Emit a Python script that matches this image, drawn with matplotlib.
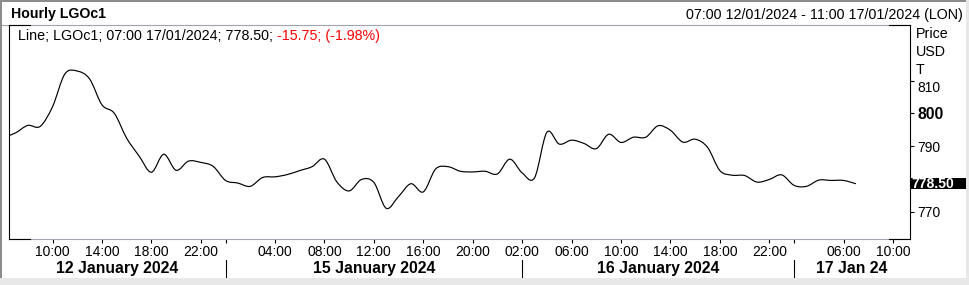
import matplotlib
matplotlib.use('Agg')
import matplotlib.pyplot as plt
import matplotlib.transforms as mtransforms
from matplotlib.patches import Rectangle, PathPatch
from matplotlib.lines import Line2D
from matplotlib.path import Path

plt.rcParams['font.family'] = ['Liberation Sans', 'DejaVu Sans']

# ---------------- data ----------------
# hourly session index (weekend / overnight gaps removed); 0 = 07:00 12/01/2024
bar_index = list(range(-1, 69))
prices = [
    792.5, 794.0, 796.3, 796.0, 802.0, 812.0, 812.9, 810.5, 802.6, 800.0,
    792.4, 787.0, 782.0, 787.5, 782.6, 785.4, 785.0, 783.8, 779.5, 778.7,
    777.7, 780.4, 780.6, 781.3, 782.5, 783.7, 786.0, 779.1, 776.3, 779.8,
    778.9, 771.0, 774.6, 778.5, 776.0, 783.0, 783.7, 782.3, 782.1, 782.3,
    781.5, 786.0, 781.8, 780.3, 794.2, 790.6, 791.8, 790.8, 789.2, 793.6,
    791.1, 792.7, 792.7, 796.2, 794.8, 791.2, 792.1, 789.6, 782.5, 781.1,
    781.0, 779.0, 779.8, 781.2, 778.0, 777.7, 779.6, 779.5, 779.5, 778.5,
]
tick_pos = [3, 7, 11, 15, 17, 21, 25, 29, 33, 37, 41, 45, 49, 53, 57, 61, 63, 67, 71]
tick_labels = ['10:00', '14:00', '18:00', '22:00', '', '04:00', '08:00', '12:00',
               '16:00', '20:00', '02:00', '06:00', '10:00', '14:00', '18:00',
               '22:00', '', '06:00', '10:00']
day_breaks = [17, 41, 63]
day_labels = ['12 January 2024', '15 January 2024', '16 January 2024', '17 Jan 24']
y_ticks = [770, 780, 790, 800, 810]
y_tick_labels = ['770', '780', '790', '800', '810']
last_price = 778.50
change = -15.75
change_pct = -1.98

# ---------------- figure ----------------
W, H = 969, 285
fig = plt.figure(figsize=(W / 100, H / 100), dpi=100)
fig.patch.set_facecolor('white')

def fx(px):
    return px / W

def fy(py):
    return 1 - py / H

ax_l, ax_r, ax_t, ax_b = 9, 910, 25, 239
ax = fig.add_axes([fx(ax_l), fy(ax_b), (ax_r - ax_l) / W, (ax_b - ax_t) / H])
ax.set_facecolor('white')

# smooth line through the hourly points (Catmull-Rom rendered as Bezier curves)
n = len(prices)
xs, ys = bar_index, prices
verts = [(xs[0], ys[0])]
codes = [Path.MOVETO]
for k in range(n - 1):
    km, kp2 = max(k - 1, 0), min(k + 2, n - 1)
    c1 = (xs[k] + (xs[k + 1] - xs[km]) / 6, ys[k] + (ys[k + 1] - ys[km]) / 6)
    c2 = (xs[k + 1] - (xs[kp2] - xs[k]) / 6, ys[k + 1] - (ys[kp2] - ys[k]) / 6)
    verts += [c1, c2, (xs[k + 1], ys[k + 1])]
    codes += [Path.CURVE4] * 3
ax.add_patch(PathPatch(Path(verts, codes), facecolor='none', edgecolor='black',
                       lw=0.85, joinstyle='round'))
ax.set_xlim(-0.52, 72.38)
ax.set_ylim(761.62, 826.96)

# spines
for s in ['top', 'bottom']:
    ax.spines[s].set_visible(False)
for s in ['left', 'right']:
    ax.spines[s].set_color('black')
    ax.spines[s].set_linewidth(0.8)

gray = '#a3a3ad'
axw = ax_r - ax_l
ax.add_line(Line2D([-7 / axw, 1], [1, 1], transform=ax.transAxes, color=gray, lw=0.8, clip_on=False))
ax.add_line(Line2D([0, 1], [0, 0], transform=ax.transAxes, color=gray, lw=0.8, clip_on=False))
c = 21 / axw
for y in (0, 1):
    ax.add_line(Line2D([0, c], [y, y], transform=ax.transAxes, color='black', lw=0.8, clip_on=False))
    ax.add_line(Line2D([1 - c, 1], [y, y], transform=ax.transAxes, color='black', lw=0.8, clip_on=False))

# x ticks
ax.set_xticks(tick_pos)
ax.set_xticklabels(tick_labels)
ax.tick_params(axis='x', direction='out', length=3.0, width=0.8, pad=1.5,
               labelsize=10, colors='black')

# y ticks on the right
ax.yaxis.tick_right()
ax.set_yticks(y_ticks)
ax.set_yticklabels(y_tick_labels)
ax.tick_params(axis='y', direction='out', length=3.0, width=0.8, pad=2.5,
               labelsize=10, colors='black')

ah = ax_b - ax_t
yspan = 826.96 - 761.62
half = 5.7 / ah * yspan
clip_rect = Rectangle((0, 0), 1, fy(179.5), transform=fig.transFigure)
for lab in ax.get_yticklabels():
    if lab.get_text() == '800':
        lab.set_fontweight('bold')
        lab.set_fontsize(11.3)
    if lab.get_text() == '810':
        lab.set_transform(lab.get_transform() +
                          mtransforms.ScaledTranslation(0, -6 / 100, fig.dpi_scale_trans))

# day separators and labels
bt = mtransforms.blended_transform_factory(ax.transData, ax.transAxes)
for b in day_breaks:
    ax.add_line(Line2D([b, b], [-(260 - ax_b) / ah, -(278 - ax_b) / ah], transform=bt,
                       color='black', lw=0.8, clip_on=False))
edges = [ax.get_xlim()[0]] + day_breaks + [ax.get_xlim()[1]]
for i, lab in enumerate(day_labels):
    ax.text((edges[i] + edges[i + 1]) / 2, -(268.5 - ax_b) / ah, lab, transform=bt,
            ha='center', va='center', fontsize=11.3, fontweight='bold', clip_on=False)

# last price box
bt2 = mtransforms.blended_transform_factory(ax.transAxes, ax.transData)
ax.add_patch(Rectangle((1.0, last_price - half), (966 - ax_r) / axw, 2 * half,
                       transform=bt2, facecolor='black', edgecolor='none',
                       clip_on=False, zorder=5))
ax.text(1.0 + 1.5 / axw, last_price, f'{last_price:.2f}', transform=bt2, color='white',
        fontsize=10, fontweight='bold', ha='left', va='center', zorder=6, clip_on=False)

# unit labels
for txt, py in [('Price', 33.5), ('USD', 52), ('T', 70)]:
    fig.text(fx(916), fy(py), txt, fontsize=10.3, ha='left', va='center')

# header
fig.text(fx(11), fy(14), 'Hourly LGOc1', fontsize=10.2, fontweight='bold', ha='left', va='center')
fig.text(fx(963), fy(14.5), '07:00 12/01/2024 - 11:00 17/01/2024 (LON)', fontsize=10.3,
         ha='right', va='center')

t1 = fig.text(fx(18), fy(36), f'Line; LGOc1; 07:00 17/01/2024; {last_price:.2f}; ',
              fontsize=10.3, ha='left', va='center')
fig.canvas.draw()
bb = t1.get_window_extent()
fig.text(bb.x1 / W, fy(36), f'{change:.2f}; ({change_pct:.2f}%)', fontsize=10.3,
         color='#ff0000', ha='left', va='center')

# outer frame
fig.patches.append(Rectangle((0, 0), fx(2), 1, transform=fig.transFigure,
                             facecolor='#8c8c8c', edgecolor='none'))
fig.patches.append(Rectangle((0, fy(2)), 1, 2 / H, transform=fig.transFigure,
                             facecolor='#8c8c8c', edgecolor='none'))
fig.patches.append(Rectangle((0, 0), 1, 7 / H, transform=fig.transFigure,
                             facecolor='#e8e8e8', edgecolor='none'))
fig.patches.append(Rectangle((fx(966), 0), 3 / W, 1, transform=fig.transFigure,
                             facecolor='#e8e8e8', edgecolor='none'))

# the 780 label sits behind the last-price box, as in the reference: show only its top
for lab in ax.get_yticklabels():
    if lab.get_text() == '780':
        lab.set_clip_path(clip_rect)

fig.savefig('out.png', dpi=100, facecolor='white')
